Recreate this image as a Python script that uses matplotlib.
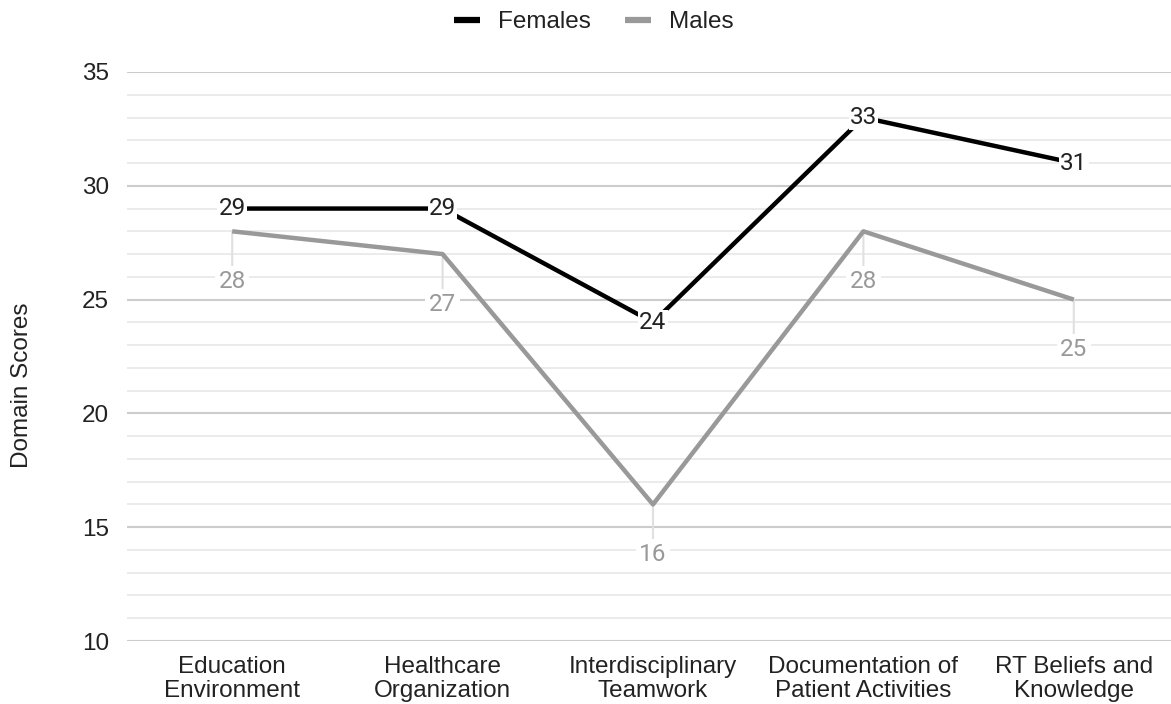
import matplotlib.pyplot as plt
from matplotlib.lines import Line2D

categories = ["Education\nEnvironment", "Healthcare\nOrganization", "Interdisciplinary\nTeamwork",
              "Documentation of\nPatient Activities", "RT Beliefs and\nKnowledge"]
females = [29, 29, 24, 33, 31]
males = [28, 27, 16, 28, 25]
y_ticks = [10, 15, 20, 25, 30, 35]

FEMALE_COLOR = "#000000"
MALE_COLOR = "#999999"
TEXT_COLOR = "#222222"
AXIS_FONT = "Liberation Sans"
LABEL_FONT = "Roboto"
FS = 17.5

fig = plt.figure(figsize=(11.71, 7.04), dpi=100)
# plot area: left edge at 127px, runs a little past the right border
ax = fig.add_axes([127 / 1171, 1 - 641 / 704, 1052 / 1171, (641 - 72) / 704])

x = list(range(len(categories)))

# gridlines: light every 1, darker every 5
for v in range(10, 36):
    major = v % 5 == 0
    ax.axhline(v, color="#cccccc" if major else "#e8e8e8", lw=1.5 if major else 1.2, zorder=0)

ax.plot(x, females, color=FEMALE_COLOR, lw=3.2, solid_capstyle="butt", zorder=3)
ax.plot(x, males, color=MALE_COLOR, lw=3.2, solid_capstyle="butt", zorder=3)

# female values sit right on the points
for xi, v in zip(x, females):
    ax.text(xi, v, str(v), ha="center", va="center", fontsize=FS, family=LABEL_FONT,
            color=TEXT_COLOR, zorder=5,
            bbox=dict(boxstyle="square,pad=0.05", fc="white", ec="none"))

# male values hang below the points with a short leader
for xi, v in zip(x, males):
    ax.annotate(str(v), xy=(xi, v), xytext=(0, -50), textcoords="offset pixels",
                ha="center", va="center", fontsize=FS, family=LABEL_FONT, color=MALE_COLOR,
                zorder=2,
                bbox=dict(boxstyle="square,pad=0.15", fc="white", ec="none"),
                arrowprops=dict(arrowstyle="-", color="#e0e0e0", lw=1.5, shrinkA=0, shrinkB=0))

ax.set_xlim(-0.5, len(categories) - 0.5)
ax.set_ylim(10, 35)
ax.set_yticks(y_ticks)
ax.set_yticklabels([str(t) for t in y_ticks], family=AXIS_FONT, fontsize=FS, color=TEXT_COLOR)
ax.set_xticks(x)
ax.set_xticklabels(categories, family=AXIS_FONT, fontsize=FS, color=TEXT_COLOR, linespacing=1.08)
ax.tick_params(axis="y", length=0, pad=13)
ax.tick_params(axis="x", length=0, pad=11)
for s in ax.spines.values():
    s.set_visible(False)

fig.text(22 / 1171, 1 - 385 / 704, "Domain Scores", rotation=90, ha="center", va="center",
         family=AXIS_FONT, fontsize=FS, color=TEXT_COLOR)

handles = [Line2D([], [], color=FEMALE_COLOR, lw=4.5, solid_capstyle="butt"),
           Line2D([], [], color=MALE_COLOR, lw=4.5, solid_capstyle="butt")]
fig.legend(handles, ["Females", "Males"], loc="center", bbox_to_anchor=(594 / 1171, 1 - 22 / 704),
           ncol=2, frameon=False, handlelength=1.05, handletextpad=0.75, columnspacing=1.4,
           prop=dict(family=AXIS_FONT, size=FS), labelcolor=TEXT_COLOR)

fig.savefig("out.png", dpi=100)
